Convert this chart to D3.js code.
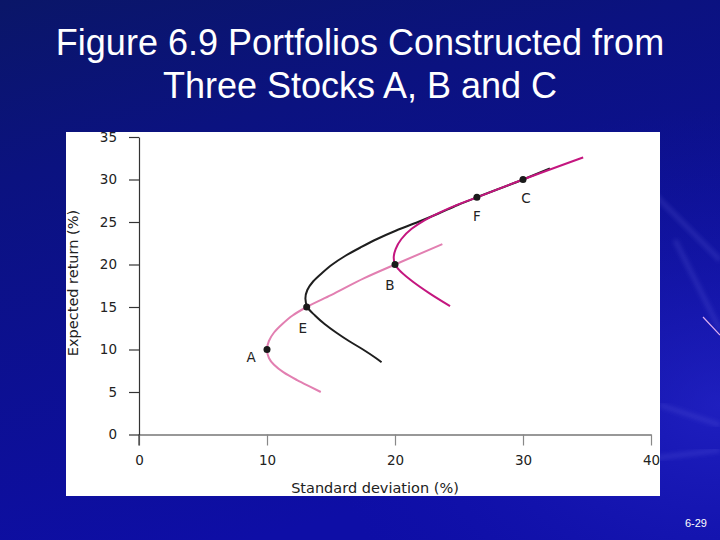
<!DOCTYPE html>
<html>
<head>
<meta charset="utf-8">
<script src="https://cdn.jsdelivr.net/npm/d3@7"></script>
<style>
  html, body { margin: 0; padding: 0; }
  svg { display: block; }
  .tick text { font-family: "DejaVu Sans", sans-serif; font-size: 13.5px; fill: #222; }
  .axis-title { font-family: "DejaVu Sans", sans-serif; font-size: 14.5px; fill: #222; }
  .pt-label { font-family: "DejaVu Sans", sans-serif; font-size: 13.5px; fill: #222; }
</style>
</head>
<body>
<svg width="720" height="540"></svg>
<script>
// values: [standard deviation %, expected return %], sorted by return
const titleLines = ['Figure 6.9 Portfolios Constructed from', 'Three Stocks A, B and C'];
const xTicks = [0, 10, 20, 30, 40];
const yTicks = [0, 5, 10, 15, 20, 25, 30, 35];

const curveAB = [
  [14.2, 5.0], [13.4, 5.6], [12.35, 6.4], [11.3, 7.3], [10.55, 8.2], [10.15, 9.0], [10.0, 10.0],
  [10.15, 11.0], [10.55, 12.0], [11.2, 13.0], [12.0, 14.0], [13.1, 15.0], [15.0, 16.4],
  [17.6, 18.4], [20.0, 20.0], [23.7, 22.4]
];
const curveBC = [
  [24.3, 15.1], [22.7, 16.6], [21.2, 18.2], [20.3, 19.4], [20.0, 20.0], [19.9, 20.8],
  [20.05, 21.8], [20.5, 23.0], [21.3, 24.2], [22.3, 25.2], [23.6, 26.2], [25.0, 27.1],
  [26.4, 27.9], [30.0, 30.0], [34.7, 32.6]
];
const curveEF = [
  [18.95, 8.5], [18.5, 9.0], [17.5, 10.0], [16.4, 11.0], [15.4, 12.0], [14.5, 13.0],
  [13.75, 14.0], [13.15, 15.0], [13.0, 16.0], [13.15, 17.0], [13.6, 18.0], [14.3, 19.0],
  [15.1, 20.0], [16.1, 21.0], [17.3, 22.0], [18.6, 23.0], [20.1, 24.0], [21.8, 25.0],
  [23.4, 26.0], [24.9, 27.0], [26.4, 27.9], [30.0, 30.0], [32.1, 31.3]
];

const pointNames = ['A', 'E', 'B', 'F', 'C'];
const pointSd = [10, 13.1, 20, 26.4, 30];
const pointRet = [10, 15, 20, 27.9, 30];

// label offsets from each dot, in pixels
const labelOffset = { A: [-16, 12], E: [-4, 26], B: [-5, 25], F: [0, 24], C: [3, 23] };

const svg = d3.select('svg');

// slide background
const defs = svg.append('defs');
const bg = defs.append('linearGradient').attr('id', 'bg')
  .attr('x1', 0).attr('y1', 0).attr('x2', 0.35).attr('y2', 1);
bg.append('stop').attr('offset', '0%').attr('stop-color', '#0a1668');
bg.append('stop').attr('offset', '30%').attr('stop-color', '#0b1280');
bg.append('stop').attr('offset', '100%').attr('stop-color', '#0e0ea6');
const glow = defs.append('radialGradient').attr('id', 'glow')
  .attr('cx', 1).attr('cy', 0.75).attr('r', 0.55);
glow.append('stop').attr('offset', '0%').attr('stop-color', '#2a2ad0').attr('stop-opacity', 0.6);
glow.append('stop').attr('offset', '100%').attr('stop-color', '#1515b0').attr('stop-opacity', 0);
defs.append('filter').attr('id', 'soft')
  .append('feGaussianBlur').attr('stdDeviation', 2);

svg.append('rect').attr('width', 720).attr('height', 540).attr('fill', 'url(#bg)');
svg.append('rect').attr('width', 720).attr('height', 540).attr('fill', 'url(#glow)');

// faint streaks on the right
[[650, 190, 720, 260], [660, 405, 720, 425], [675, 240, 720, 330], [640, 460, 720, 450]].forEach(s => {
  svg.append('line')
    .attr('x1', s[0]).attr('y1', s[1]).attr('x2', s[2]).attr('y2', s[3])
    .attr('stroke', '#7a7af0').attr('stroke-opacity', 0.18).attr('stroke-width', 5)
    .attr('filter', 'url(#soft)');
});
svg.append('line')
  .attr('x1', 703).attr('y1', 317).attr('x2', 720).attr('y2', 335)
  .attr('stroke', '#e0b0f0').attr('stroke-width', 1.2);

// title
svg.append('g').selectAll('text').data(titleLines).enter().append('text')
  .attr('x', 360).attr('y', (d, i) => 55 + i * 43)
  .attr('text-anchor', 'middle')
  .attr('font-family', '"Liberation Sans", Arial, sans-serif')
  .attr('font-size', 36)
  .attr('fill', '#fff')
  .text(d => d);

svg.append('text')
  .attr('x', 707).attr('y', 527)
  .attr('text-anchor', 'end')
  .attr('font-family', '"Liberation Sans", Arial, sans-serif')
  .attr('font-size', 11)
  .attr('fill', '#fff')
  .text('6-29');

// chart panel
svg.append('rect')
  .attr('x', 66).attr('y', 132).attr('width', 594).attr('height', 364)
  .attr('fill', '#fff');

const x = d3.scaleLinear().domain([0, 40]).range([139, 651]);
const y = d3.scaleLinear().domain([0, 35]).range([434.5, 137]);

const xAxis = svg.append('g')
  .attr('transform', `translate(0,${y(0)})`)
  .call(d3.axisBottom(x).tickValues(xTicks).tickSize(11).tickSizeOuter(0).tickPadding(10));
xAxis.select('.domain').attr('stroke', '#333').attr('stroke-width', 1.2);
xAxis.selectAll('.tick line').attr('stroke', '#888').attr('stroke-width', 1.2);

const yAxis = svg.append('g')
  .attr('transform', `translate(${x(0)},0)`)
  .call(d3.axisLeft(y).tickValues(yTicks).tickSize(10).tickSizeOuter(0).tickPadding(12));
yAxis.select('.domain').attr('stroke', '#333').attr('stroke-width', 1.2);
yAxis.selectAll('.tick line').attr('stroke', '#333').attr('stroke-width', 1.2);
// y axis line runs down through the x axis like the original
svg.append('line')
  .attr('x1', x(0)).attr('x2', x(0)).attr('y1', y(0)).attr('y2', y(0) + 11)
  .attr('stroke', '#333').attr('stroke-width', 1.2);
svg.selectAll('.tick text').attr('font-family', null).attr('font-size', null);

svg.append('text')
  .attr('class', 'axis-title')
  .attr('x', 375).attr('y', 493)
  .attr('text-anchor', 'middle')
  .text('Standard deviation (%)');

svg.append('text')
  .attr('class', 'axis-title')
  .attr('transform', 'translate(78,283) rotate(-90)')
  .attr('text-anchor', 'middle')
  .text('Expected return (%)');

// frontier curves, sigma as a smooth function of return
const line = d3.line()
  .x(d => x(d[0]))
  .y(d => y(d[1]))
  .curve(d3.curveMonotoneY);

svg.append('path').datum(curveAB)
  .attr('d', line).attr('fill', 'none')
  .attr('stroke', '#e27fb1').attr('stroke-width', 2);

svg.append('path').datum(curveEF)
  .attr('d', line).attr('fill', 'none')
  .attr('stroke', '#1e1e1e').attr('stroke-width', 2);

svg.append('path').datum(curveBC)
  .attr('d', line).attr('fill', 'none')
  .attr('stroke', '#c4167f').attr('stroke-width', 2);

// named portfolios
const pts = svg.append('g').selectAll('g')
  .data(pointNames.map((n, i) => ({ name: n, sd: pointSd[i], ret: pointRet[i] })))
  .enter().append('g');

pts.append('circle')
  .attr('cx', d => x(d.sd)).attr('cy', d => y(d.ret))
  .attr('r', 3.5).attr('fill', '#1a1a1a');

pts.append('text')
  .attr('class', 'pt-label')
  .attr('x', d => x(d.sd) + labelOffset[d.name][0])
  .attr('y', d => y(d.ret) + labelOffset[d.name][1])
  .attr('text-anchor', 'middle')
  .text(d => d.name);
</script>
</body>
</html>
